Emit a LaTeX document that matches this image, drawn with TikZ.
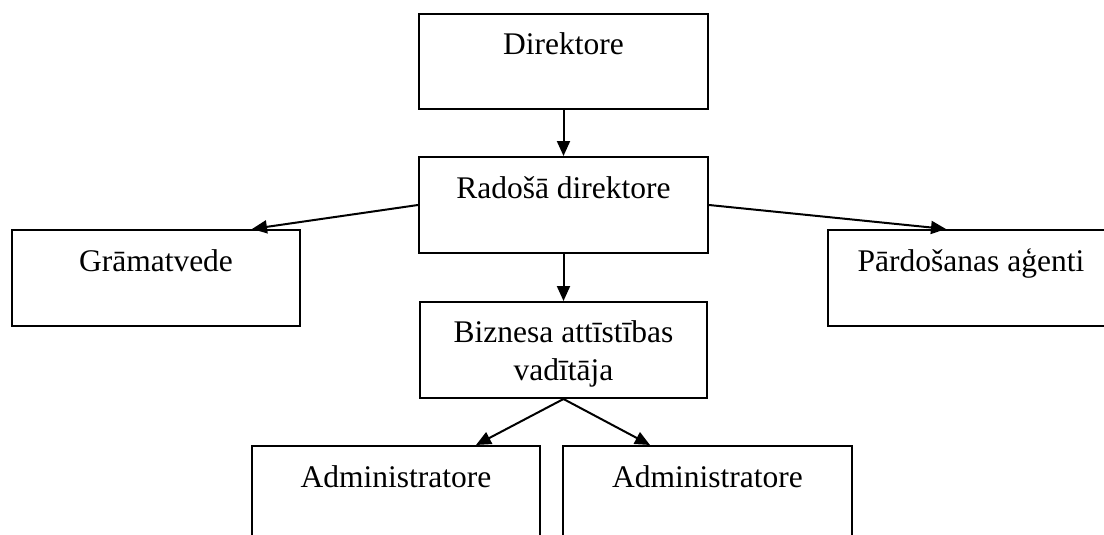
\documentclass[tikz,border=0pt]{standalone}
\usepackage{fontspec}
\setmainfont{Liberation Serif}
\usetikzlibrary{arrows.meta,calc}

\tikzset{
  orgbox/.style={draw, line width=2pt, inner sep=0pt, minimum height=96pt},
  orgtext/.style={anchor=base, inner sep=0pt, font=\fontsize{31.5}{39}\selectfont, align=center},
  orgarrow/.style={line width=2pt, -{Triangle[length=15pt,width=13pt]}}
}

\begin{document}
\begin{tikzpicture}[x=1pt,y=-1pt]
  \useasboundingbox (0,0) rectangle (1104,535);
  \fill[white] (0,0) rectangle (1104,535);
  \clip (0,0) rectangle (1104,535);

  % boxes
  \node[orgbox, minimum width=289pt, minimum height=95pt] (dir) at (563.5,61.5) {};
  \node[orgbox, minimum width=289pt] (rad)  at (563.5,205) {};
  \node[orgbox, minimum width=288pt] (gram) at (156,278) {};
  \node[orgbox, minimum width=286pt] (pard) at (971,278) {};
  \node[orgbox, minimum width=287pt] (biz)  at (563.5,350) {};
  \node[orgbox, minimum width=288pt] (admA) at (396,494) {};
  \node[orgbox, minimum width=289pt] (admB) at (707.5,494) {};

  % labels, set near the top of each box
  \node[orgtext] (tdir)  at (563.5,55)  {Direktore};
  \node[orgtext] (trad)  at (563.5,198) {Radošā direktore};
  \node[orgtext] (tgram) at (156,271)   {Grāmatvede};
  \node[orgtext] (tpard) at (971,271)   {Pārdošanas aģenti};
  \node[orgtext] (tbiz1) at (563.5,342) {Biznesa attīstības};
  \node[orgtext] (tbiz2) at (563.5,380) {vadītāja};
  \node[orgtext] (tadmA) at (396,487)   {Administratore};
  \node[orgtext] (tadmB) at (707.5,487) {Administratore};

  % arrow end points on the top edges
  \coordinate (gramIn) at ($(gram.north west)+(241,0)$);
  \coordinate (pardIn) at ($(pard.north west)+(119,0)$);
  \coordinate (admAIn) at ($(admA.north west)+(225,0)$);
  \coordinate (admBIn) at ($(admB.north west)+(88,0)$);

  % connectors
  \draw[orgarrow] (dir) -- (rad);
  \draw[orgarrow] (rad) -- (biz);
  \draw[orgarrow] (rad.west) -- (gramIn);
  \draw[orgarrow] (rad.east) -- (pardIn);
  \draw[orgarrow] (biz.south) -- (admAIn);
  \draw[orgarrow] (biz.south) -- (admBIn);
\end{tikzpicture}
\end{document}
